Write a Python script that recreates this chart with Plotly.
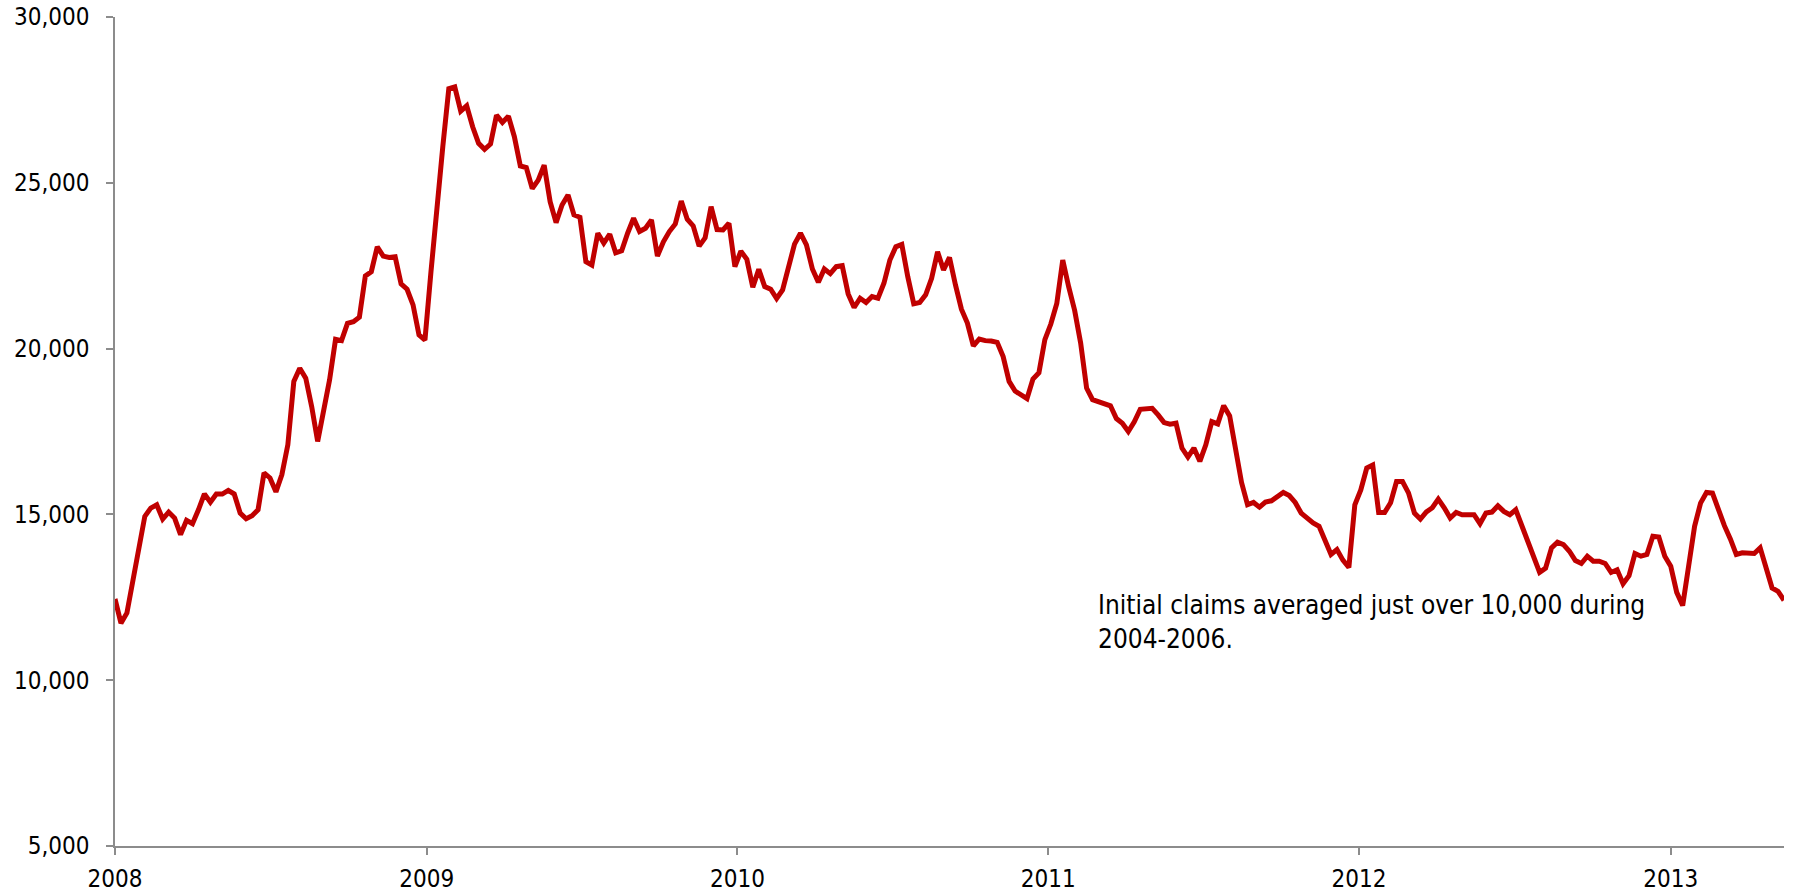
import pandas as pd
import plotly.graph_objects as go

# Weekly initial unemployment claims, first week of 2008 through mid-May 2013
start_date = "2008-01-01"

claims_2008 = [
    12450, 11720, 12030, 13000, 14100, 14940, 15190, 15290, 14860, 15070,
    14890, 14390, 14820, 14720, 15140, 15620, 15370, 15615, 15615, 15725,
    15615, 15040, 14870, 14960, 15140, 16250, 16100, 15680, 16200, 17100,
    19010, 19410, 19110, 18250, 17200, 18100, 19060, 20280, 20240, 20760,
    20810, 20950, 22190, 22320, 23070, 22790, 22750, 22770, 21950, 21790,
    21320, 20410, 20260,
]
claims_2009 = [
    22300, 24400, 26100, 27840, 27890, 27160, 27320, 26690, 26190, 26010,
    26170, 27040, 26820, 27010, 26390, 25510, 25460, 24830, 25080, 25530,
    24430, 23800, 24330, 24630, 24030, 23960, 22620, 22520, 23480, 23180,
    23450, 22890, 22950, 23480, 23930, 23530, 23630, 23880, 22790, 23220,
    23530, 23760, 24450, 23900, 23700, 23090, 23340, 24280, 23590, 23580,
    23780,
]
claims_2010 = [
    22470, 22940, 22690, 21850, 22390, 21870, 21790, 21510, 21770, 22500,
    23150, 23480, 23130, 22400, 22000, 22400, 22260, 22470, 22500, 21650,
    21240, 21520, 21390, 21570, 21520, 21970, 22670, 23070, 23140, 22170,
    21350, 21390, 21620, 22120, 22920, 22370, 22750, 21920, 21190, 20770,
    20080, 20290, 20240, 20230, 20190, 19760, 19010, 18720, 18600, 18490,
    19080, 19270, 20270,
]
claims_2011 = [
    20740, 21360, 22670, 21860, 21150, 20170, 18810, 18460, 18385, 18315,
    18275, 17890, 17750, 17500, 17790, 18170, 18200, 18200, 18000, 17770,
    17720, 17750, 17000, 16730, 17000, 16600, 17100, 17800, 17730, 18280,
    17970, 16850, 15960, 15290, 15360, 15220, 15370, 15410, 15540, 15660,
    15570, 15360, 15040, 14890, 14740, 14640, 14240, 13790, 13940, 13620,
    13400,
]
claims_2012 = [
    15290, 15740, 16400, 16490, 15060, 15060, 15350, 15990, 15990, 15650,
    15040, 14860, 15075, 15200, 15460, 15200, 14890, 15060, 14990, 14990,
    14990, 14720, 15040, 15070, 15260, 15090, 14990, 15140, 14640, 14160,
    13710, 13250, 13380, 13990, 14160, 14090, 13890, 13610, 13520, 13740,
    13590, 13590, 13520, 13250, 13330, 12910, 13150, 13820, 13740, 13790,
    14340, 14320,
]
claims_2013 = [
    13740, 13440, 12650, 12250, 13440, 14640, 15340, 15660, 15640, 15090,
    14660, 14260, 13790, 13840, 13840, 13820, 13990, 13380, 12780, 12680,
    12410,
]

claims = (claims_2008 + claims_2009 + claims_2010
          + claims_2011 + claims_2012 + claims_2013)
weeks = pd.date_range(start_date, periods=len(claims), freq="7D")

y_ticks = [5000, 10000, 15000, 20000, 25000, 30000]
year_ticks = ["2008-01-01", "2009-01-01", "2010-01-01",
              "2011-01-01", "2012-01-01", "2013-01-01"]
year_labels = ["2008", "2009", "2010", "2011", "2012", "2013"]

note = "Initial claims averaged just over 10,000 during<br>2004-2006."

font_family = "DejaVu Sans Condensed, DejaVu Sans, sans-serif"
axis_grey = "#8c8c8c"

fig = go.Figure(
    go.Scatter(
        x=weeks,
        y=claims,
        mode="lines",
        line=dict(color="#c00000", width=5),
        hoverinfo="x+y",
    )
)

fig.update_layout(
    width=1797,
    height=893,
    margin=dict(l=115, r=13, t=17, b=47),
    paper_bgcolor="white",
    plot_bgcolor="white",
    showlegend=False,
    font=dict(family=font_family, size=24, color="#000000"),
)

fig.update_xaxes(
    type="date",
    range=[weeks[0], weeks[-1]],
    tickvals=year_ticks,
    ticktext=year_labels,
    ticks="outside",
    ticklen=7,
    tickwidth=1.5,
    tickcolor=axis_grey,
    showline=True,
    linecolor=axis_grey,
    linewidth=1.5,
    showgrid=False,
    zeroline=False,
    automargin=False,
    ticklabelstandoff=3,
    tickfont=dict(family=font_family, size=24, color="#000000"),
)

fig.update_yaxes(
    range=[5000, 30000],
    tickvals=y_ticks,
    tickformat=",",
    ticks="outside",
    ticklen=7,
    tickwidth=1.5,
    tickcolor=axis_grey,
    showline=True,
    linecolor=axis_grey,
    linewidth=1.5,
    showgrid=False,
    zeroline=False,
    automargin=False,
    ticklabelstandoff=12,
    tickfont=dict(family=font_family, size=24, color="#000000"),
)

fig.add_annotation(
    xref="paper",
    yref="paper",
    x=0.588,
    y=0.311,
    xanchor="left",
    yanchor="top",
    text=note,
    showarrow=False,
    align="left",
    font=dict(family=font_family, size=26, color="#000000"),
)

fig.write_html("out.html")
